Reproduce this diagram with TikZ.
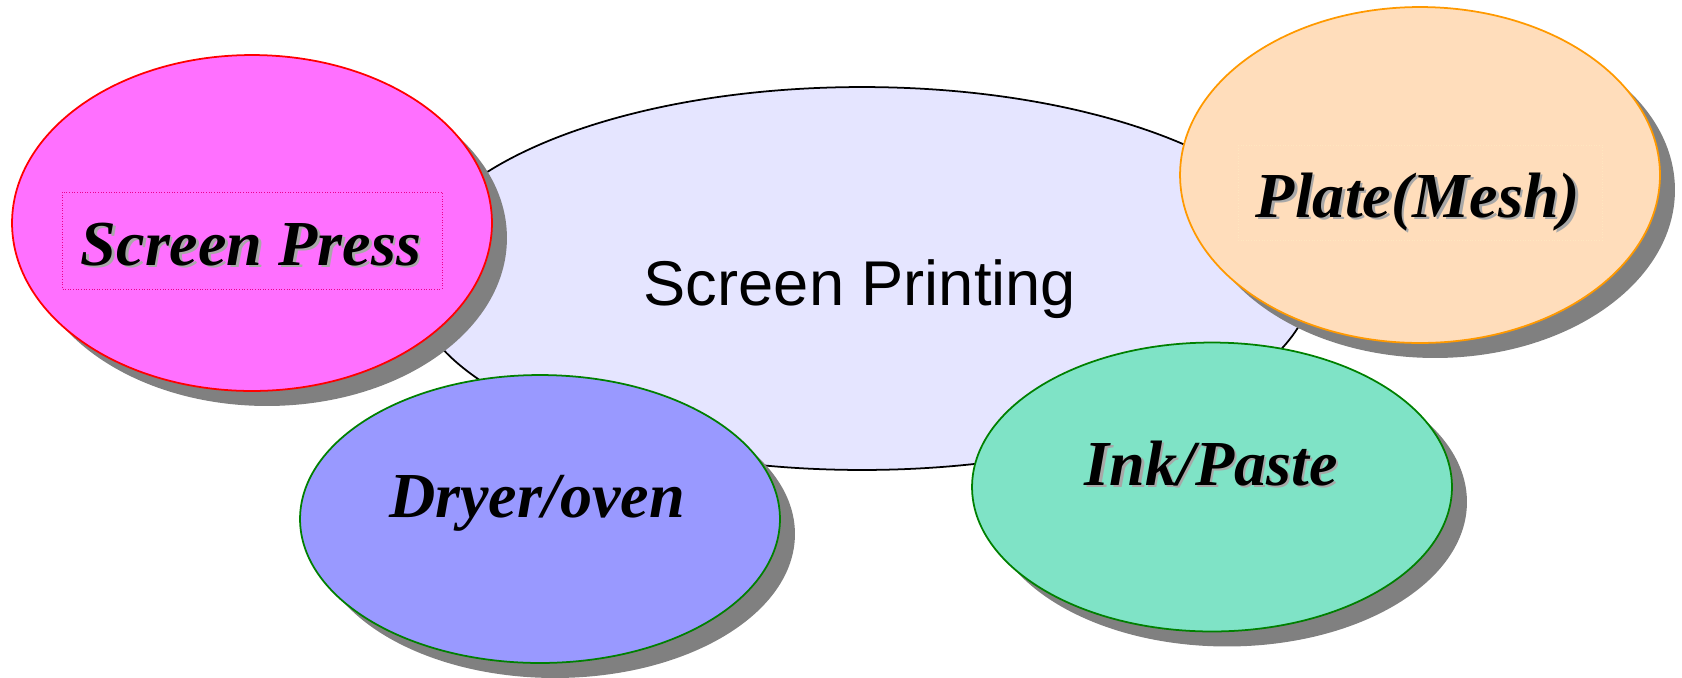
\documentclass[tikz,border=0pt]{standalone}
\usepackage{fontspec}
\setmainfont{Liberation Serif}
\setsansfont{Liberation Sans}
\usetikzlibrary{shapes,shadows}
\usetikzlibrary{positioning}

\definecolor{centerfill}{HTML}{E5E5FF}
\definecolor{pressfill}{HTML}{FF70FF}
\definecolor{platefill}{HTML}{FFDDBB}
\definecolor{inkfill}{HTML}{7FE3C6}
\definecolor{dryerfill}{HTML}{9999FF}
\definecolor{shadowgray}{HTML}{808080}
\definecolor{txtshadow}{HTML}{A8A8A8}
\definecolor{platedraw}{HTML}{FF9900}
\definecolor{greendraw}{HTML}{008000}

\newcommand{\shtext}[1]{\rlap{\hspace{1.5pt}\raisebox{-1.5pt}{\color{txtshadow}#1}}#1}

\begin{document}
\begin{tikzpicture}[x=0.02cm,y=-0.02cm,line width=1pt,
  blob/.style={ellipse,minimum width=9.6cm,drop shadow={shadow xshift=0.3cm,shadow yshift=-0.3cm,fill=shadowgray,opacity=1}},
  ptxt/.style={anchor=base,inner sep=0pt,font=\fontsize{36.5}{38}\selectfont\bfseries\itshape}]
\useasboundingbox (0,0) rectangle (1682,677);
%\path[draw] (0,0) rectangle (1682,677);
\path node[ellipse,draw,fill=centerfill,minimum width=18.04cm,minimum height=7.66cm] (sprint) at (862,278.5) {};
\path node[anchor=base,inner sep=0pt,font=\sffamily\fontsize{36}{38}\selectfont] (sprinttxt) at (860,305) {Screen Printing};

\path node[blob,draw=red,fill=pressfill,minimum height=6.72cm] (press) at (252,223) {};
\path[draw=magenta,densely dotted,line width=0.5pt] (62,192) rectangle (442,289);
\path node[ptxt] (presstxt) at (251,265) {\shtext{Screen Press}};

\path node[blob,draw=platedraw,fill=platefill,minimum height=6.72cm] (plate) at (1420,175) {};
\path[draw=platedraw!25,densely dotted,line width=0.5pt] (1238,145) rectangle (1602,240);
\path node[ptxt] (platetxt) at (1418,217) {\shtext{Plate(Mesh)}};

\path node[blob,draw=greendraw,fill=dryerfill,minimum height=5.76cm] (dryer) at (540,519) {};
\path node[ptxt] (dryertxt) at (537,517) {Dryer/oven};

\path node[blob,draw=greendraw,fill=inkfill,minimum height=5.78cm] (ink) at (1212,487) {};
\path node[ptxt] (inktxt) at (1211,485) {\shtext{Ink/Paste}};
\end{tikzpicture}
\end{document}
